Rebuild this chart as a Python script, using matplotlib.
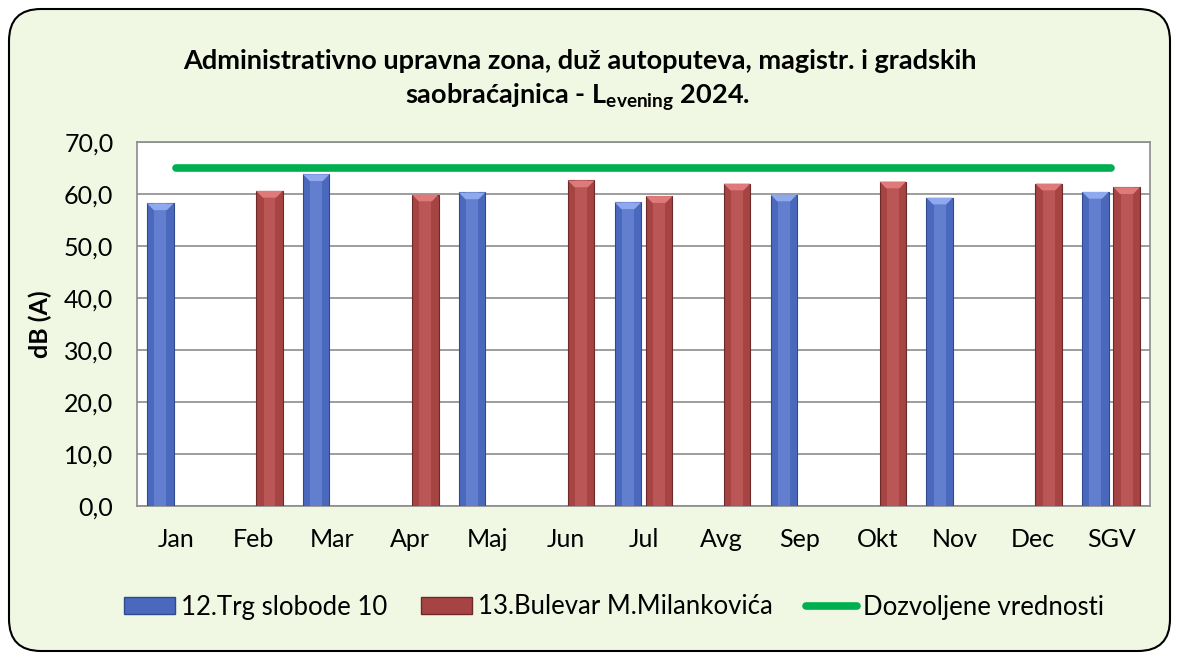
import numpy as np
import matplotlib
matplotlib.use("Agg")
import matplotlib.pyplot as plt
from matplotlib.patches import FancyBboxPatch
from matplotlib.lines import Line2D
from matplotlib.patches import Patch

plt.rcParams['font.family'] = ['Lato', 'DejaVu Sans']
plt.rcParams['mathtext.fontset'] = 'custom'
plt.rcParams['mathtext.rm'] = 'Lato:bold'
plt.rcParams['mathtext.bf'] = 'Lato:bold'

meseci = ['Jan', 'Feb', 'Mar', 'Apr', 'Maj', 'Jun', 'Jul', 'Avg', 'Sep', 'Okt', 'Nov', 'Dec', 'SGV']
nan = np.nan
trg_slobode = [58.2, nan, 63.8, nan, 60.3, nan, 58.4, nan, 59.9, nan, 59.3, nan, 60.4]
bulevar = [nan, 60.6, nan, 59.9, nan, 62.6, 59.6, 62.0, nan, 62.4, nan, 62.0, 61.3]
dozvoljeno = [65.0] * 13

naziv1 = '12.Trg slobode 10'
naziv2 = '13.Bulevar M.Milankovića'
naziv3 = 'Dozvoljene vrednosti'

plava = '#4A69BD'
crvena = '#A64343'
zelena = '#00B050'

fig = plt.figure(figsize=(11.79, 6.6), dpi=100)
fig.patch.set_facecolor('white')

# okvir sa zaobljenim uglovima
okvir = FancyBboxPatch((9, 9), 1161, 642, boxstyle="round,pad=0,rounding_size=32",
                       transform=None, facecolor='#F0F7E3', edgecolor='black', linewidth=1.5, zorder=0)
fig.add_artist(okvir)

ax = fig.add_axes([137 / 1179, 1 - 506 / 660, (1150 - 137) / 1179, (506 - 142) / 660])
ax.set_facecolor('white')

x = np.arange(len(meseci))
w = 0.34
off = 0.2

def stubici(pozicije, vrednosti, boja, svetla, tamna):
    ax.bar(pozicije, vrednosti, w, color=boja, edgecolor=tamna, linewidth=0.8, zorder=3)
    # malo svetliji srednji deo
    ax.bar(pozicije, vrednosti, w * 0.45, color=svetla, alpha=0.35, linewidth=0, zorder=4)
    # vrh stubica
    for px, v in zip(pozicije, vrednosti):
        if np.isnan(v):
            continue
        ax.fill([px - w / 2, px + w / 2, px + w / 4, px - w / 4],
                [v, v, v - 1.3, v - 1.3], color=svetla, zorder=5, linewidth=0)

stubici(x - off, trg_slobode, plava, '#8FA8EE', '#2F4A8E')
stubici(x + off, bulevar, crvena, '#E07A7A', '#6E2A2A')

ax.plot(x, dozvoljeno, color=zelena, linewidth=5.5, solid_capstyle='round', zorder=6)

ax.set_xlim(-0.5, len(meseci) - 0.5)
ax.set_ylim(0, 70)
ax.set_yticks(np.arange(0, 71, 10))
ax.set_yticklabels([f'{v:.1f}'.replace('.', ',') for v in np.arange(0, 71, 10)])
ax.set_xticks(x)
ax.set_xticklabels(meseci)
ax.tick_params(axis='both', length=0, labelsize=18)
ax.tick_params(axis='x', pad=16)
ax.tick_params(axis='y', pad=17)
ax.grid(axis='y', color='#8C8C8C', linewidth=1.2, zorder=1)
for s in ax.spines.values():
    s.set_color('#8C8C8C')
    s.set_linewidth(1.2)

fig.text(40 / 1179, 1 - 324 / 660, 'dB (A)', rotation=90, ha='center', va='center',
         fontsize=18, fontweight='bold')

fig.text(580 / 1179, 1 - 61 / 660, 'Administrativno upravna zona, duž autoputeva, magistr. i gradskih',
         ha='center', va='center', fontsize=19.5, fontweight='bold')
fig.text(578 / 1179, 1 - 97 / 660, r'saobraćajnica - L$_{\mathbf{evening}}$ 2024.',
         ha='center', va='center', fontsize=19.5, fontweight='bold')

handles = [Patch(facecolor=plava, edgecolor='#2F4A8E'),
           Patch(facecolor=crvena, edgecolor='#6E2A2A'),
           Line2D([0], [0], color=zelena, linewidth=5.5, solid_capstyle='round')]
fig.legend(handles, [naziv1, naziv2, naziv3], loc='center', bbox_to_anchor=(614 / 1179, 1 - 607 / 660),
           ncol=3, frameon=False, fontsize=18.5, handlelength=2.0, handleheight=0.6,
           handletextpad=0.22, columnspacing=1.3, borderpad=0.2)

fig.savefig('out.png', dpi=100, facecolor='white')
